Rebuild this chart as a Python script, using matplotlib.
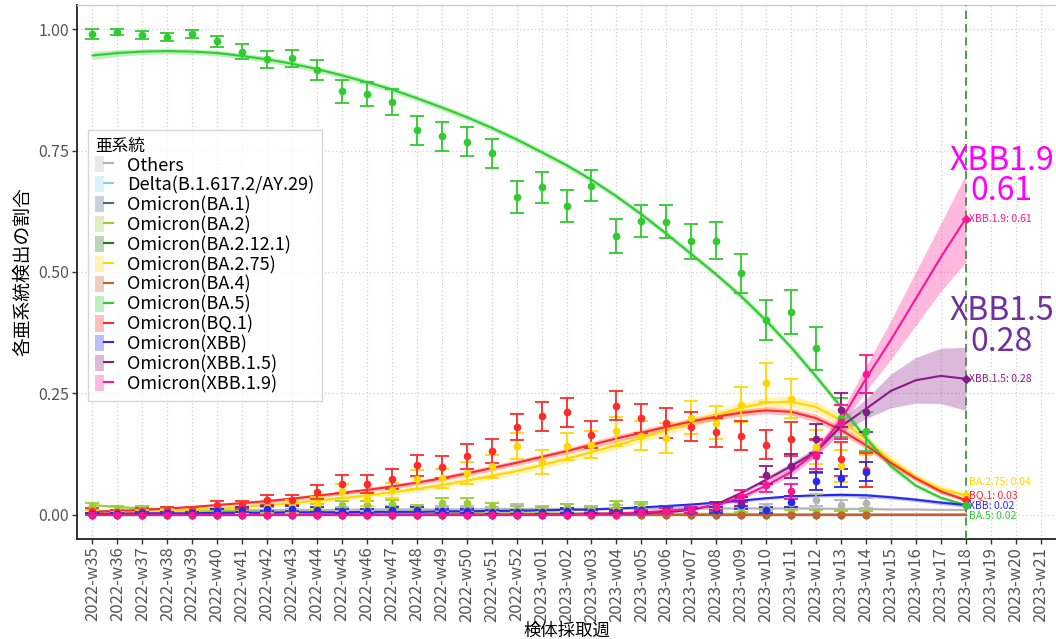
import matplotlib
matplotlib.use("Agg")
import matplotlib.pyplot as plt
from matplotlib.patches import Patch
from matplotlib.lines import Line2D
from matplotlib.legend_handler import HandlerTuple

plt.rcParams['font.family'] = ['Noto Sans CJK JP', 'DejaVu Sans']

# ---------------- data ----------------
weeks = ["2022-w35", "2022-w36", "2022-w37", "2022-w38", "2022-w39", "2022-w40",
         "2022-w41", "2022-w42", "2022-w43", "2022-w44", "2022-w45", "2022-w46",
         "2022-w47", "2022-w48", "2022-w49", "2022-w50", "2022-w51", "2022-w52",
         "2023-w01", "2023-w02", "2023-w03", "2023-w04", "2023-w05", "2023-w06",
         "2023-w07", "2023-w08", "2023-w09", "2023-w10", "2023-w11", "2023-w12",
         "2023-w13", "2023-w14", "2023-w15", "2023-w16", "2023-w17", "2023-w18",
         "2023-w19", "2023-w20", "2023-w21"]
n_obs = 32   # observed weeks: 2022-w35 .. 2023-w14
n_fit = 36   # fitted weeks:   2022-w35 .. 2023-w18

names = ["Others", "Delta(B.1.617.2/AY.29)", "Omicron(BA.1)", "Omicron(BA.2)",
         "Omicron(BA.2.12.1)", "Omicron(BA.2.75)", "Omicron(BA.4)", "Omicron(BA.5)",
         "Omicron(BQ.1)", "Omicron(XBB)", "Omicron(XBB.1.5)", "Omicron(XBB.1.9)"]

fit_zero = [0.0, 0.0, 0.0, 0.0, 0.0, 0.0, 0.0, 0.0, 0.0, 0.0, 0.0, 0.0,
            0.0, 0.0, 0.0, 0.0, 0.0, 0.0, 0.0, 0.0, 0.0, 0.0, 0.0, 0.0,
            0.0, 0.0, 0.0, 0.0, 0.0, 0.0, 0.0, 0.0, 0.0, 0.0, 0.0, 0.0]
obs_zero = [0.0, 0.0, 0.0, 0.0, 0.0, 0.0, 0.0, 0.0, 0.0, 0.0, 0.0, 0.0,
            0.0, 0.0, 0.0, 0.0, 0.0, 0.0, 0.0, 0.0, 0.0, 0.0, 0.0, 0.0,
            0.0, 0.0, 0.0, 0.0, 0.0, 0.0, 0.0, 0.0]

# fitted proportions (w35 .. w18)
fit_Others = [0.008, 0.008, 0.008, 0.009, 0.009, 0.009, 0.009, 0.010, 0.010, 0.010, 0.010, 0.011,
              0.011, 0.011, 0.011, 0.011, 0.012, 0.012, 0.012, 0.012, 0.012, 0.012, 0.013, 0.013,
              0.013, 0.013, 0.013, 0.013, 0.013, 0.013, 0.012, 0.012, 0.011, 0.011, 0.010, 0.010]
fit_BA2 = [0.020, 0.016, 0.013, 0.011, 0.009, 0.008, 0.007, 0.006, 0.006, 0.005, 0.005, 0.005,
           0.004, 0.004, 0.004, 0.004, 0.003, 0.003, 0.003, 0.003, 0.003, 0.002, 0.002, 0.002,
           0.002, 0.002, 0.002, 0.001, 0.001, 0.001, 0.001, 0.001, 0.001, 0.001, 0.001, 0.001]
fit_BA275 = [0.004, 0.005, 0.006, 0.008, 0.010, 0.013, 0.016, 0.020, 0.024, 0.029, 0.034, 0.040,
             0.046, 0.053, 0.061, 0.070, 0.080, 0.090, 0.102, 0.115, 0.129, 0.143, 0.158, 0.174,
             0.190, 0.206, 0.220, 0.231, 0.233, 0.222, 0.195, 0.155, 0.112, 0.077, 0.053, 0.040]
fit_BA5 = [0.946, 0.951, 0.954, 0.955, 0.954, 0.951, 0.945, 0.938, 0.929, 0.918, 0.905, 0.891,
           0.876, 0.858, 0.839, 0.819, 0.797, 0.773, 0.747, 0.720, 0.690, 0.656, 0.619, 0.579,
           0.537, 0.495, 0.450, 0.400, 0.345, 0.285, 0.222, 0.158, 0.100, 0.060, 0.035, 0.020]
fit_BQ1 = [0.006, 0.008, 0.010, 0.013, 0.016, 0.020, 0.024, 0.028, 0.033, 0.039, 0.045, 0.051,
           0.058, 0.066, 0.075, 0.085, 0.096, 0.107, 0.119, 0.131, 0.144, 0.157, 0.169, 0.181,
           0.192, 0.202, 0.210, 0.215, 0.212, 0.199, 0.175, 0.143, 0.107, 0.075, 0.048, 0.030]
fit_XBB = [0.002, 0.002, 0.003, 0.003, 0.003, 0.004, 0.004, 0.004, 0.005, 0.005, 0.005, 0.006,
           0.006, 0.006, 0.007, 0.007, 0.008, 0.008, 0.009, 0.010, 0.011, 0.013, 0.015, 0.018,
           0.021, 0.025, 0.029, 0.034, 0.038, 0.040, 0.041, 0.040, 0.036, 0.031, 0.025, 0.020]
fit_XBB15 = [0.0, 0.0, 0.0, 0.0, 0.0, 0.0, 0.0, 0.0, 0.0, 0.0, 0.0, 0.0,
             0.0, 0.0, 0.0, 0.0, 0.0, 0.0, 0.001, 0.001, 0.002, 0.002, 0.003, 0.005,
             0.010, 0.021, 0.045, 0.072, 0.100, 0.130, 0.182, 0.218, 0.255, 0.277, 0.286, 0.280]
fit_XBB19 = [0.0, 0.0, 0.0, 0.0, 0.0, 0.0, 0.0, 0.0, 0.0, 0.0, 0.0, 0.0,
             0.0, 0.0, 0.0, 0.0, 0.0, 0.0, 0.001, 0.001, 0.002, 0.003, 0.005, 0.008,
             0.012, 0.020, 0.036, 0.060, 0.088, 0.130, 0.195, 0.280, 0.360, 0.445, 0.530, 0.610]

# half-width of the confidence ribbons
band_small = [0.002, 0.002, 0.002, 0.002, 0.002, 0.002, 0.002, 0.002, 0.002, 0.002, 0.002, 0.002,
              0.002, 0.002, 0.002, 0.002, 0.002, 0.002, 0.002, 0.002, 0.002, 0.002, 0.002, 0.002,
              0.002, 0.002, 0.002, 0.002, 0.002, 0.002, 0.002, 0.002, 0.002, 0.002, 0.002, 0.002]
band_BA275 = [0.002, 0.002, 0.002, 0.003, 0.003, 0.003, 0.004, 0.004, 0.004, 0.005, 0.005, 0.005,
              0.006, 0.006, 0.006, 0.007, 0.007, 0.007, 0.008, 0.008, 0.008, 0.009, 0.009, 0.009,
              0.010, 0.010, 0.010, 0.011, 0.011, 0.011, 0.011, 0.010, 0.009, 0.008, 0.007, 0.006]
band_BA5 = [0.008, 0.007, 0.006, 0.006, 0.006, 0.006, 0.006, 0.006, 0.006, 0.006, 0.006, 0.006,
            0.006, 0.006, 0.006, 0.006, 0.006, 0.006, 0.006, 0.006, 0.006, 0.006, 0.006, 0.006,
            0.006, 0.006, 0.007, 0.007, 0.007, 0.007, 0.007, 0.007, 0.006, 0.005, 0.004, 0.003]
band_BQ1 = [0.002, 0.002, 0.002, 0.003, 0.003, 0.003, 0.003, 0.004, 0.004, 0.004, 0.004, 0.005,
            0.005, 0.005, 0.005, 0.006, 0.006, 0.006, 0.006, 0.006, 0.007, 0.007, 0.007, 0.007,
            0.007, 0.007, 0.007, 0.007, 0.007, 0.008, 0.008, 0.008, 0.007, 0.006, 0.005, 0.004]
band_XBB = [0.001, 0.001, 0.001, 0.001, 0.001, 0.001, 0.001, 0.001, 0.001, 0.001, 0.001, 0.001,
            0.001, 0.001, 0.001, 0.001, 0.001, 0.001, 0.002, 0.002, 0.002, 0.002, 0.002, 0.002,
            0.003, 0.003, 0.003, 0.003, 0.003, 0.003, 0.004, 0.004, 0.004, 0.004, 0.004, 0.004]
band_XBB15 = [0.0, 0.0, 0.0, 0.0, 0.0, 0.0, 0.0, 0.0, 0.0, 0.0, 0.0, 0.0,
              0.0, 0.0, 0.0, 0.0, 0.0, 0.0, 0.0, 0.0, 0.0, 0.001, 0.001, 0.001,
              0.002, 0.002, 0.003, 0.005, 0.007, 0.010, 0.014, 0.020, 0.035, 0.047, 0.057, 0.065]
band_XBB19 = [0.0, 0.0, 0.0, 0.0, 0.0, 0.0, 0.0, 0.0, 0.0, 0.0, 0.0, 0.0,
              0.0, 0.0, 0.0, 0.0, 0.0, 0.0, 0.0, 0.0, 0.0, 0.001, 0.001, 0.001,
              0.002, 0.003, 0.004, 0.006, 0.008, 0.010, 0.015, 0.025, 0.040, 0.055, 0.070, 0.090]

# observed proportions (w35 .. w14) and error half-widths
obs_Others = [0.008, 0.006, 0.008, 0.007, 0.008, 0.008, 0.010, 0.010, 0.008, 0.010, 0.010, 0.012,
              0.012, 0.010, 0.012, 0.012, 0.010, 0.015, 0.012, 0.015, 0.012, 0.014, 0.016, 0.012,
              0.010, 0.012, 0.012, 0.015, 0.025, 0.030, 0.020, 0.024]
err_Others = [0.004, 0.004, 0.004, 0.004, 0.004, 0.004, 0.005, 0.005, 0.004, 0.005, 0.005, 0.006,
              0.006, 0.005, 0.006, 0.006, 0.005, 0.007, 0.006, 0.007, 0.006, 0.007, 0.007, 0.006,
              0.005, 0.006, 0.006, 0.007, 0.010, 0.012, 0.010, 0.010]
obs_BA2 = [0.018, 0.012, 0.012, 0.010, 0.010, 0.008, 0.008, 0.010, 0.012, 0.015, 0.020, 0.020,
           0.022, 0.014, 0.024, 0.024, 0.017, 0.012, 0.010, 0.014, 0.010, 0.020, 0.018, 0.012,
           0.010, 0.010, 0.008, 0.006, 0.005, 0.005, 0.004, 0.004]
err_BA2 = [0.006, 0.005, 0.005, 0.005, 0.005, 0.005, 0.005, 0.006, 0.006, 0.007, 0.008, 0.008,
           0.009, 0.007, 0.010, 0.010, 0.008, 0.007, 0.006, 0.008, 0.006, 0.009, 0.008, 0.007,
           0.006, 0.006, 0.005, 0.005, 0.004, 0.004, 0.004, 0.004]
obs_BA275 = [0.005, 0.004, 0.006, 0.005, 0.007, 0.008, 0.010, 0.015, 0.020, 0.024, 0.049, 0.033,
             0.050, 0.073, 0.075, 0.086, 0.100, 0.141, 0.108, 0.141, 0.144, 0.172, 0.163, 0.158,
             0.200, 0.189, 0.227, 0.272, 0.239, 0.140, 0.100, 0.090]
err_BA275 = [0.004, 0.003, 0.004, 0.004, 0.005, 0.006, 0.006, 0.008, 0.010, 0.012, 0.015, 0.014,
             0.016, 0.020, 0.020, 0.022, 0.024, 0.027, 0.025, 0.028, 0.028, 0.030, 0.030, 0.030,
             0.034, 0.034, 0.036, 0.040, 0.040, 0.035, 0.033, 0.033]
obs_BA5 = [0.990, 0.994, 0.988, 0.984, 0.990, 0.975, 0.954, 0.938, 0.940, 0.916, 0.872, 0.867,
           0.850, 0.792, 0.780, 0.768, 0.745, 0.654, 0.675, 0.635, 0.678, 0.575, 0.605, 0.604,
           0.563, 0.564, 0.497, 0.401, 0.417, 0.343, 0.200, 0.172]
err_BA5 = [0.010, 0.006, 0.008, 0.009, 0.008, 0.012, 0.015, 0.018, 0.018, 0.020, 0.024, 0.025,
           0.026, 0.030, 0.030, 0.030, 0.030, 0.033, 0.032, 0.033, 0.032, 0.035, 0.033, 0.034,
           0.036, 0.038, 0.041, 0.042, 0.045, 0.044, 0.040, 0.040]
obs_BQ1 = [0.008, 0.005, 0.008, 0.010, 0.010, 0.020, 0.020, 0.030, 0.030, 0.047, 0.063, 0.063,
           0.074, 0.102, 0.098, 0.120, 0.131, 0.180, 0.203, 0.211, 0.165, 0.225, 0.199, 0.189,
           0.181, 0.170, 0.163, 0.144, 0.155, 0.120, 0.115, 0.093]
err_BQ1 = [0.005, 0.004, 0.005, 0.006, 0.006, 0.008, 0.008, 0.010, 0.010, 0.015, 0.018, 0.018,
           0.020, 0.022, 0.022, 0.025, 0.025, 0.027, 0.030, 0.030, 0.028, 0.030, 0.030, 0.030,
           0.030, 0.030, 0.030, 0.030, 0.035, 0.035, 0.035, 0.035]
obs_XBB = [0.002, 0.002, 0.003, 0.003, 0.003, 0.008, 0.010, 0.012, 0.012, 0.010, 0.008, 0.008,
           0.010, 0.010, 0.008, 0.008, 0.006, 0.006, 0.006, 0.008, 0.006, 0.006, 0.010, 0.012,
           0.008, 0.010, 0.020, 0.010, 0.027, 0.069, 0.076, 0.089]
err_XBB = [0.002, 0.002, 0.002, 0.002, 0.002, 0.004, 0.005, 0.005, 0.005, 0.005, 0.004, 0.004,
           0.005, 0.005, 0.004, 0.004, 0.004, 0.004, 0.004, 0.005, 0.004, 0.004, 0.005, 0.006,
           0.005, 0.006, 0.008, 0.006, 0.012, 0.018, 0.018, 0.020]
obs_XBB15 = [0.0, 0.0, 0.0, 0.0, 0.0, 0.0, 0.0, 0.0, 0.0, 0.0, 0.0, 0.0,
             0.0, 0.0, 0.0, 0.0, 0.0, 0.0, 0.0, 0.0, 0.002, 0.003, 0.005, 0.008,
             0.010, 0.018, 0.027, 0.082, 0.100, 0.157, 0.215, 0.211]
err_XBB15 = [0.0, 0.0, 0.0, 0.0, 0.0, 0.0, 0.0, 0.0, 0.0, 0.0, 0.0, 0.0,
             0.0, 0.0, 0.0, 0.0, 0.0, 0.0, 0.0, 0.0, 0.002, 0.003, 0.004, 0.005,
             0.006, 0.008, 0.010, 0.018, 0.025, 0.030, 0.035, 0.040]
obs_XBB19 = [0.0, 0.0, 0.0, 0.0, 0.0, 0.0, 0.0, 0.0, 0.0, 0.0, 0.0, 0.0,
             0.0, 0.0, 0.0, 0.0, 0.0, 0.0, 0.0, 0.0, 0.0, 0.0, 0.005, 0.008,
             0.010, 0.015, 0.038, 0.062, 0.048, 0.124, 0.192, 0.290]
err_XBB19 = [0.0, 0.0, 0.0, 0.0, 0.0, 0.0, 0.0, 0.0, 0.0, 0.0, 0.0, 0.0,
             0.0, 0.0, 0.0, 0.0, 0.0, 0.0, 0.0, 0.0, 0.0, 0.0, 0.004, 0.005,
             0.006, 0.008, 0.012, 0.015, 0.015, 0.030, 0.035, 0.040]

fits = [fit_Others, fit_zero, fit_zero, fit_BA2, fit_zero, fit_BA275, fit_zero,
        fit_BA5, fit_BQ1, fit_XBB, fit_XBB15, fit_XBB19]
bands = [band_small, band_small, band_small, band_small, band_small, band_BA275, band_small,
         band_BA5, band_BQ1, band_XBB, band_XBB15, band_XBB19]
obs = [obs_Others, obs_zero, obs_zero, obs_BA2, obs_zero, obs_BA275, obs_zero,
       obs_BA5, obs_BQ1, obs_XBB, obs_XBB15, obs_XBB19]
errs = [err_Others, obs_zero, obs_zero, err_BA2, obs_zero, err_BA275, obs_zero,
        err_BA5, err_BQ1, err_XBB, err_XBB15, err_XBB19]

colors = ["#B5B5B5", "#87CEEB", "#4A6A8A", "#9ACD32", "#1E7B1E", "#FFD700", "#C8602C",
          "#2ECC2E", "#FF2A2A", "#2828F0", "#8B1A89", "#FF1493"]

# right-end labels: (index into names, short name, label y position)
end_labels = [(11, "XBB.1.9", 0.61), (10, "XBB.1.5", 0.28), (5, "BA.2.75", 0.068),
              (8, "BQ.1", 0.041), (9, "XBB", 0.019), (7, "BA.5", -0.002)]

# ---------------- plot ----------------
fig = plt.figure(figsize=(10.56, 6.39), dpi=100)
ax = fig.add_axes([77 / 1056, 100 / 639, 979 / 1056, 534 / 639])

xf = list(range(n_fit))
xo = list(range(n_obs))

for i in range(len(names)):
    lo = [f - b for f, b in zip(fits[i], bands[i])]
    hi = [f + b for f, b in zip(fits[i], bands[i])]
    ax.fill_between(xf, lo, hi, color=colors[i], alpha=0.3, lw=0, zorder=2)
for i in range(len(names)):
    ax.plot(xf, fits[i], color=colors[i], lw=1.5, zorder=3)
for i in range(len(names)):
    ax.errorbar(xo, obs[i], yerr=errs[i], fmt='o', color=colors[i], ms=4.5,
                elinewidth=1.3, capsize=5, capthick=1.3, zorder=4)

# vertical dashed line at last fitted week
ax.axvline(n_fit - 1, color="#3A8A3A", ls=(0, (5, 3)), lw=1.2, zorder=5)

for idx, short, ty in end_labels:
    v = fits[idx][-1]
    ax.plot([n_fit - 1], [v], marker='D', ms=4.5, color=colors[idx], zorder=6)
    ax.text(n_fit - 1 + 0.15, ty, f"{short}: {v:.2f}", color=colors[idx],
            fontsize=7.5, va='center', ha='left', zorder=6)

# large annotations
ax.text(36.45, 0.728, "XBB1.9", color="#FF00FF", fontsize=23, ha='center', va='center', zorder=7)
ax.text(36.45, 0.666, "0.61", color="#FF00FF", fontsize=23, ha='center', va='center', zorder=7)
ax.text(36.45, 0.420, "XBB1.5", color="#7030A0", fontsize=23, ha='center', va='center', zorder=7)
ax.text(36.45, 0.356, "0.28", color="#7030A0", fontsize=23, ha='center', va='center', zorder=7)

ax.set_xlim(-0.62, 38.62)
ax.set_ylim(-0.05, 1.05)
ax.set_xticks(range(len(weeks)))
ax.set_xticklabels(weeks, rotation=90, fontsize=12, color="#555555")
ax.set_yticks([0, 0.25, 0.5, 0.75, 1.0])
ax.set_yticklabels(["0.00", "0.25", "0.50", "0.75", "1.00"], fontsize=11.5, color="#555555")
ax.tick_params(axis='both', length=3.5, width=1.0, color="#333333", pad=2)
ax.grid(True, color="#D0D0D0", ls=(0, (1, 2)), lw=0.9)
ax.set_axisbelow(True)
for s in ["left", "bottom"]:
    ax.spines[s].set_color("#222222")
    ax.spines[s].set_linewidth(1.3)
ax.spines["top"].set_color("#C8C8C8")
ax.spines["right"].set_visible(False)

ax.set_ylabel("各亜系統検出の割合", fontsize=13.5, labelpad=4)
ax.set_xlabel("検体採取週", fontsize=12.5, labelpad=0)

handles = [(Patch(facecolor=c, alpha=0.3, edgecolor='none'), Line2D([], [], color=c, lw=1.5))
           for c in colors]
leg = ax.legend(handles, names, title="亜系統", loc='upper left',
                bbox_to_anchor=(0.011, 0.765), borderaxespad=0, fontsize=13,
                title_fontsize=12, handler_map={tuple: HandlerTuple(ndivide=None, pad=0)},
                handlelength=1.0, handleheight=1.0, labelspacing=0.09, handletextpad=0.8,
                borderpad=0.4, frameon=True, fancybox=False, alignment='left')
leg.get_frame().set_edgecolor("#CCCCCC")
leg.get_frame().set_linewidth(1.0)
leg.set_zorder(8)

fig.savefig("out.png", dpi=100)
